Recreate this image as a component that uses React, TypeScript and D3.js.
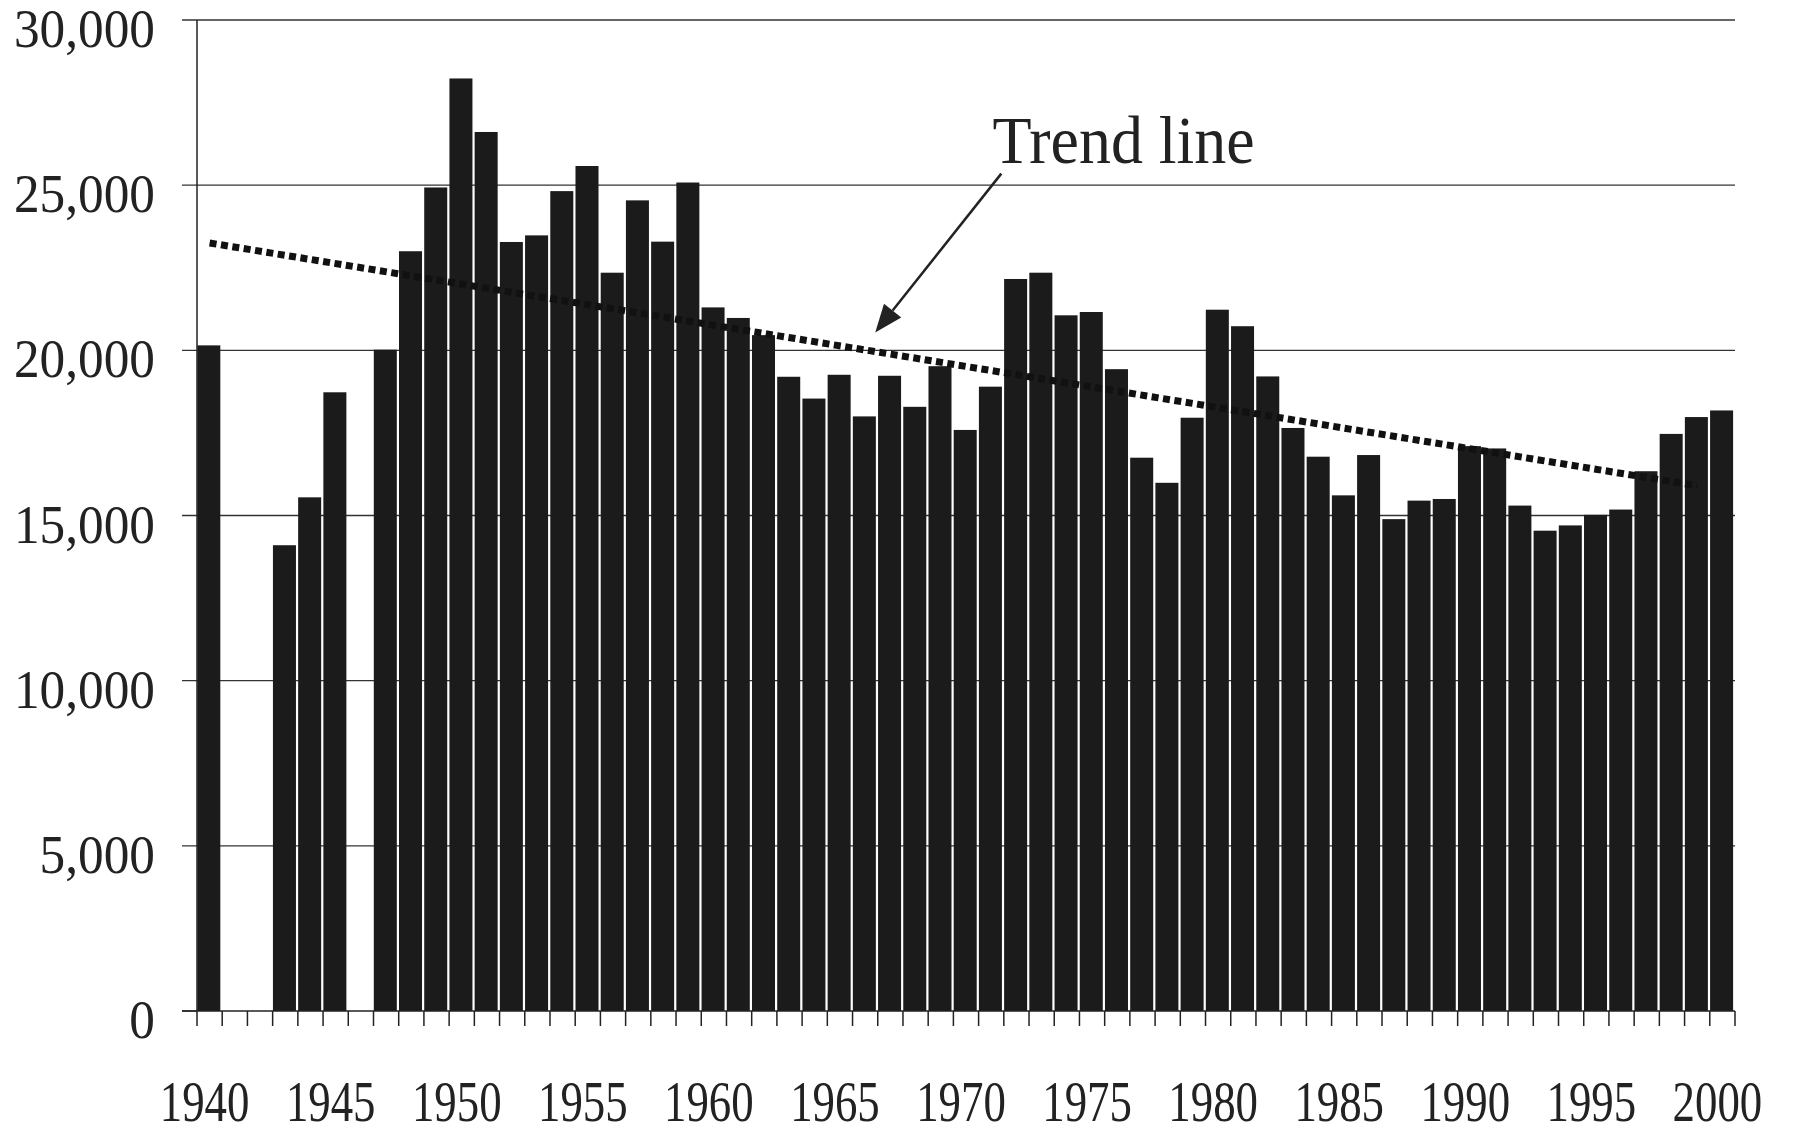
import { useEffect, useRef } from 'react'
import * as d3 from 'd3'

// yearly values (null = no bar that year)
const years = [
  1940, 1941, 1942, 1943, 1944, 1945, 1946, 1947, 1948, 1949,
  1950, 1951, 1952, 1953, 1954, 1955, 1956, 1957, 1958, 1959,
  1960, 1961, 1962, 1963, 1964, 1965, 1966, 1967, 1968, 1969,
  1970, 1971, 1972, 1973, 1974, 1975, 1976, 1977, 1978, 1979,
  1980, 1981, 1982, 1983, 1984, 1985, 1986, 1987, 1988, 1989,
  1990, 1991, 1992, 1993, 1994, 1995, 1996, 1997, 1998, 1999,
  2000
]
const values: (number | null)[] = [
  20150, null, null, 14100, 15550, 18730, null, 20020, 23000, 24930,
  28230, 26610, 23280, 23480, 24820, 25580, 22350, 24540, 23290, 25080,
  21300, 20980, 20460, 19200, 18540, 19260, 18000, 19230, 18290, 19520,
  17590, 18900, 22160, 22350, 21060, 21160, 19430, 16750, 15990, 17960,
  21230, 20730, 19210, 17650, 16780, 15610, 16830, 14890, 15450, 15500,
  17100, 17030, 15300, 14540, 14700, 15020, 15180, 16340, 17470, 17980,
  18180
]

const yTicks = [0, 5000, 10000, 15000, 20000, 25000, 30000]
const xLabels = [1940, 1945, 1950, 1955, 1960, 1965, 1970, 1975, 1980, 1985, 1990, 1995, 2000]

// dotted trend line end points (year, value)
const trendYears = [1940, 1999]
const trendValues = [23250, 15900]

// annotation
const noteText = 'Trend line'
const notePos = [1971.55, 25670]
const arrowFrom = [1971.9, 25350]
const arrowTo = [1966.9, 20540]

const width = 1796
const height = 1135
const font = '"Liberation Serif", "Times New Roman", serif'

export default function App() {
  const svgRef = useRef<SVGSVGElement>(null)

  useEffect(() => {
    if (!svgRef.current) return
    const svg = d3.select(svgRef.current)
    svg.selectAll('*').remove()

    const left = 197
    const right = 1735
    const top = 20
    const bottom = 1011

    const x = d3.scaleLinear().domain([1940, 2001]).range([left, right])
    const y = d3.scaleLinear().domain([0, 30000]).range([bottom, top])
    const step = x(1941) - x(1940)

    svg.append('rect').attr('width', width).attr('height', height).attr('fill', '#fff')

    // gridlines + y ticks
    svg.append('g')
      .selectAll('line')
      .data(yTicks)
      .enter()
      .append('line')
      .attr('x1', left - 15)
      .attr('x2', d => (d === 0 ? left : right))
      .attr('y1', d => y(d))
      .attr('y2', d => y(d))
      .attr('stroke', '#333')
      .attr('stroke-width', 1.4)

    // bars
    const rows = years.map((yr, i) => ({ year: yr, value: values[i] })).filter(d => d.value != null)
    svg.append('g')
      .selectAll('rect')
      .data(rows)
      .enter()
      .append('rect')
      .attr('x', d => x(d.year) + 0.3)
      .attr('width', step - 2.2)
      .attr('y', d => y(d.value as number))
      .attr('height', d => bottom - y(d.value as number))
      .attr('fill', '#1b1b1b')

    // axes
    svg.append('line')
      .attr('x1', left).attr('x2', left)
      .attr('y1', top).attr('y2', bottom)
      .attr('stroke', '#222').attr('stroke-width', 1.5)
    svg.append('line')
      .attr('x1', left - 15).attr('x2', right)
      .attr('y1', bottom).attr('y2', bottom)
      .attr('stroke', '#222').attr('stroke-width', 1.5)

    svg.append('g')
      .selectAll('line')
      .data([...years, 2001])
      .enter()
      .append('line')
      .attr('x1', d => x(d))
      .attr('x2', d => x(d))
      .attr('y1', bottom)
      .attr('y2', bottom + 15)
      .attr('stroke', '#222')
      .attr('stroke-width', 1.5)

    // y labels
    svg.append('g')
      .selectAll('text')
      .data(yTicks)
      .enter()
      .append('text')
      .attr('transform', d => `translate(155, ${y(d) + 27}) scale(0.95, 1)`)
      .attr('text-anchor', 'end')
      .style('font-family', font)
      .style('font-size', '54px')
      .style('fill', '#222')
      .text(d => d3.format(',')(d))

    // x labels
    svg.append('g')
      .selectAll('text')
      .data(xLabels)
      .enter()
      .append('text')
      .attr('transform', d => `translate(${x(d + 0.5) - 5}, 1121) scale(0.8, 1)`)
      .attr('text-anchor', 'middle')
      .style('font-family', font)
      .style('font-size', '56px')
      .style('fill', '#222')
      .text(d => String(d))

    // trend line
    const trend = d3.line<number>()
      .x((d, i) => x(trendYears[i] + 0.5))
      .y(d => y(d))
    svg.append('path')
      .attr('d', trend(trendValues))
      .attr('fill', 'none')
      .attr('stroke', '#111')
      .attr('stroke-width', 7)
      .attr('stroke-dasharray', '7 4.5')

    // annotation
    svg.append('text')
      .attr('transform', `translate(${x(notePos[0])}, ${y(notePos[1])}) scale(0.94, 1)`)
      .style('font-family', font)
      .style('font-size', '68px')
      .style('fill', '#222')
      .text(noteText)

    const x1 = x(arrowFrom[0]), y1 = y(arrowFrom[1])
    const x2 = x(arrowTo[0]), y2 = y(arrowTo[1])
    const ang = Math.atan2(y2 - y1, x2 - x1)
    const headLen = 28
    const headW = 11
    const bx = x2 - headLen * Math.cos(ang)
    const by = y2 - headLen * Math.sin(ang)
    svg.append('line')
      .attr('x1', x1).attr('y1', y1)
      .attr('x2', bx).attr('y2', by)
      .attr('stroke', '#222').attr('stroke-width', 2.5)
    svg.append('polygon')
      .attr('points', [
        [x2, y2],
        [bx + headW * Math.sin(ang), by - headW * Math.cos(ang)],
        [bx - headW * Math.sin(ang), by + headW * Math.cos(ang)]
      ].map(p => p.join(',')).join(' '))
      .attr('fill', '#222')
  }, [])

  return (
    <svg
      ref={svgRef}
      width={width}
      height={height}
      style={{ position: 'absolute', left: 0, top: 0, display: 'block' }}
    />
  )
}
